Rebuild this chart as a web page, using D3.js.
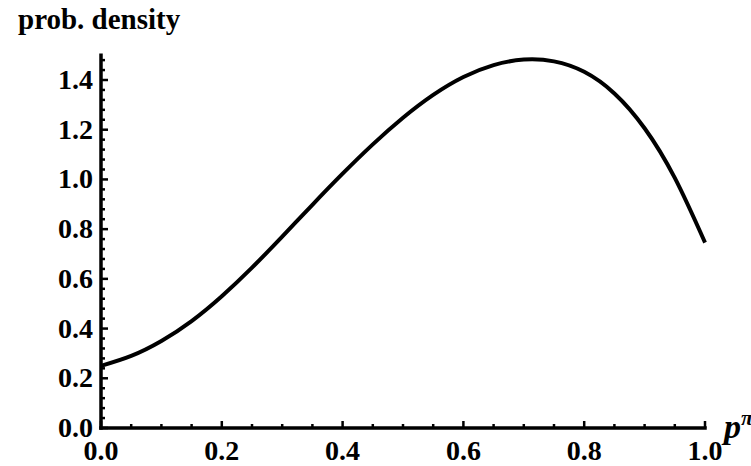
<!DOCTYPE html>
<html>
<head>
<meta charset="utf-8">
<script src="https://cdn.jsdelivr.net/npm/d3@7"></script>
<style>
  html, body { margin: 0; padding: 0; background: #fff; }
  svg text { font-family: "Liberation Serif", "Times New Roman", serif; font-weight: bold; fill: #000; }
</style>
</head>
<body>
<div id="chart"></div>
<script>
// Density curve at steps of 0.05
const P_VALUES = [0.00, 0.05, 0.10, 0.15, 0.20, 0.25, 0.30, 0.35, 0.40, 0.45, 0.50,
                  0.55, 0.60, 0.65, 0.70, 0.75, 0.80, 0.85, 0.90, 0.95, 1.00];
const DENSITY = [0.25, 0.29, 0.35, 0.43, 0.53, 0.645, 0.77, 0.898, 1.023, 1.141, 1.248,
                 1.34, 1.412, 1.46, 1.482, 1.475, 1.433, 1.346, 1.206, 1.006, 0.746];
const X_TICKS = [0, 0.2, 0.4, 0.6, 0.8, 1.0];
const Y_TICKS = [0, 0.2, 0.4, 0.6, 0.8, 1.0, 1.2, 1.4];

const W = 751, H = 466;
const x = d3.scaleLinear().domain([0, 1]).range([101, 705]);
const y = d3.scaleLinear().domain([0, 1.4]).range([428, 80]);

const svg = d3.select("#chart").append("svg")
  .attr("width", W).attr("height", H);

// minor ticks (inward), majors a bit longer
const xMinor = d3.range(0, 1.0001, 0.05);
const yMinor = d3.range(0, 1.5001, 0.04);
const isMajor = (ticks, d) => ticks.some(t => Math.abs(t - d) < 1e-6);

const g = svg.append("g");
g.selectAll("line.xm").data(xMinor).enter().append("line")
  .attr("x1", d => x(d)).attr("x2", d => x(d))
  .attr("y1", y(0)).attr("y2", d => y(0) - (isMajor(X_TICKS, d) ? 7 : 4))
  .attr("stroke", "#000").attr("stroke-width", 2.5);
g.selectAll("line.ym").data(yMinor).enter().append("line")
  .attr("y1", d => y(d)).attr("y2", d => y(d))
  .attr("x1", x(0)).attr("x2", d => x(0) + (isMajor(Y_TICKS, d) ? 7 : 4))
  .attr("stroke", "#000").attr("stroke-width", 2.5);

// axis lines
g.append("line").attr("x1", x(0)).attr("x2", x(1)).attr("y1", y(0)).attr("y2", y(0))
  .attr("stroke", "#000").attr("stroke-width", 3.5).attr("stroke-linecap", "square");
g.append("line").attr("x1", x(0)).attr("x2", x(0)).attr("y1", y(0)).attr("y2", y(1.5))
  .attr("stroke", "#000").attr("stroke-width", 3.5).attr("stroke-linecap", "square");

// tick labels
g.selectAll("text.xl").data(X_TICKS).enter().append("text")
  .attr("x", d => x(d)).attr("y", y(0) + 32)
  .attr("text-anchor", "middle").attr("font-size", 28)
  .text(d => d.toFixed(1));
g.selectAll("text.yl").data(Y_TICKS).enter().append("text")
  .attr("x", x(0) - 8).attr("y", d => y(d) + 9)
  .attr("text-anchor", "end").attr("font-size", 28)
  .text(d => d.toFixed(1));

// axis titles
svg.append("text").attr("x", 18).attr("y", 29).attr("font-size", 29).text("prob. density");
const xt = svg.append("text").attr("x", 724).attr("y", 438).attr("font-size", 34)
  .attr("font-style", "italic");
xt.append("tspan").text("p");
xt.append("tspan").attr("dy", -13).attr("font-size", 22).text("π");

// curve
const line = d3.line()
  .x((d, i) => x(P_VALUES[i]))
  .y(d => y(d))
  .curve(d3.curveNatural);
svg.append("path").datum(DENSITY)
  .attr("d", line)
  .attr("fill", "none").attr("stroke", "#000").attr("stroke-width", 4);
</script>
</body>
</html>
